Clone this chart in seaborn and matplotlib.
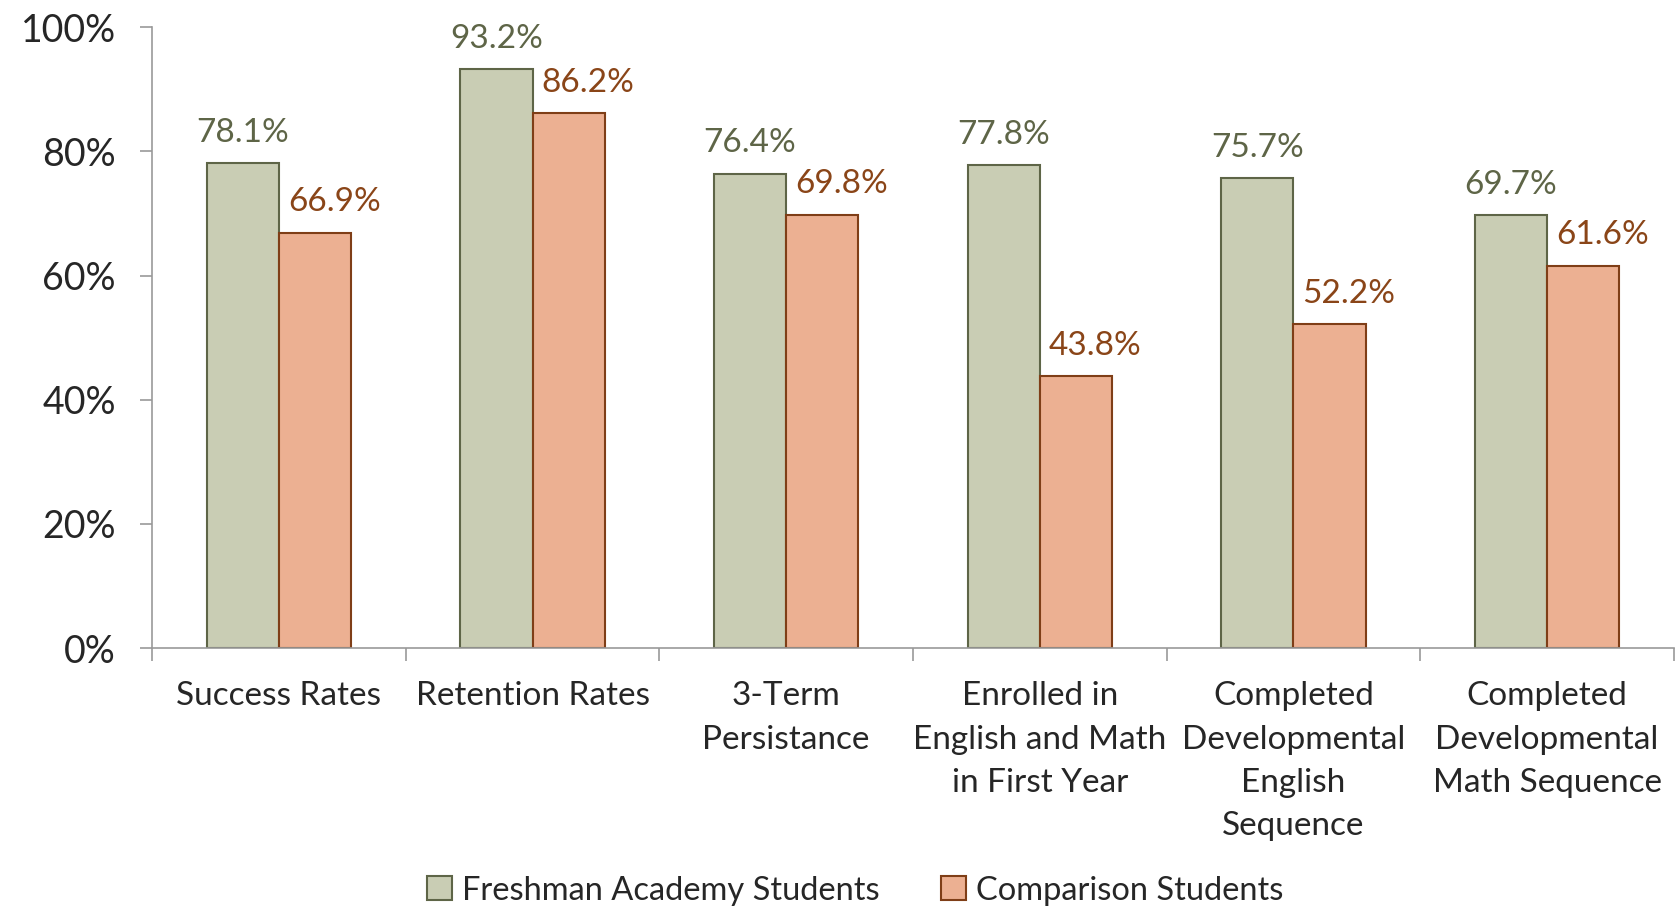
import matplotlib.pyplot as plt
import seaborn as sns
import pandas as pd
from matplotlib.ticker import FuncFormatter, FixedLocator
from matplotlib.patches import Patch

categories = ['Success Rates', 'Retention Rates', '3-Term\nPersistance',
              'Enrolled in\nEnglish and Math\nin First Year',
              'Completed\nDevelopmental\nEnglish\nSequence',
              'Completed\nDevelopmental\nMath Sequence']
freshman = [78.1, 93.2, 76.4, 77.8, 75.7, 69.7]
comparison = [66.9, 86.2, 69.8, 43.8, 52.2, 61.6]
groups = ['Freshman Academy Students', 'Comparison Students']

fills = ['#C9CDB4', '#ECB092']
edges = ['#5E6547', '#7F3E17']
label_colors = ['#5E6547', '#8A4518']

df = pd.DataFrame({
    'category': categories * 2,
    'value': freshman + comparison,
    'group': [groups[0]] * len(categories) + [groups[1]] * len(categories),
})

sns.set_style('white')
plt.rcParams['font.family'] = ['Lato', 'DejaVu Sans']

fig = plt.figure(figsize=(16.8, 9.07), dpi=100)
ax = fig.add_axes([0.0905, 0.2855, 0.9059, 0.6845])

sns.barplot(data=df, x='category', y='value', hue='group', palette=fills,
            width=0.57, ax=ax, legend=False, saturation=1)

# orange labels sit a little to the right of their bars
x_shift = [0, 14]
for i, cont in enumerate(ax.containers):
    for bar in cont:
        bar.set_edgecolor(edges[i])
        bar.set_linewidth(1.5)
    anns = ax.bar_label(cont, labels=[f'{v:.1f}%' for v in cont.datavalues],
                        padding=11, fontsize=24, color=label_colors[i])
    for a in anns:
        a.xyann = (x_shift[i], 11)

ax.set_ylim(0, 100)
ax.set_xlim(-0.5, len(categories) - 0.5)
ax.yaxis.set_major_locator(FixedLocator([0, 20, 40, 60, 80, 100]))
ax.yaxis.set_major_formatter(FuncFormatter(lambda v, p: f'{v:.0f}%'))
ax.tick_params(axis='y', labelsize=27, length=9, width=1.2, color='#999999',
               direction='out', left=True, pad=17)
ax.tick_params(axis='x', labelsize=24, length=0, pad=24)
for lbl in ax.get_xticklabels():
    lbl.set_linespacing(1.55)
    lbl.set_verticalalignment('top')

# boundary ticks between categories
ax.set_xticks([x - 0.5 for x in range(len(categories) + 1)], minor=True)
ax.tick_params(axis='x', which='minor', length=9, width=1.2, color='#999999',
               direction='out', bottom=True)

for side in ['top', 'right']:
    ax.spines[side].set_visible(False)
for side in ['left', 'bottom']:
    ax.spines[side].set_color('#999999')
    ax.spines[side].set_linewidth(1.2)
ax.set_xlabel('')
ax.set_ylabel('')

handles = [Patch(facecolor=fills[i], edgecolor=edges[i], linewidth=1.5, label=groups[i])
           for i in range(2)]
fig.legend(handles=handles, loc='center', bbox_to_anchor=(0.509, 0.018), ncol=2,
           frameon=False, fontsize=23.5, handlelength=0.75, handleheight=0.75,
           handletextpad=0.3, columnspacing=1.9)

fig.savefig('out.png', dpi=100)
